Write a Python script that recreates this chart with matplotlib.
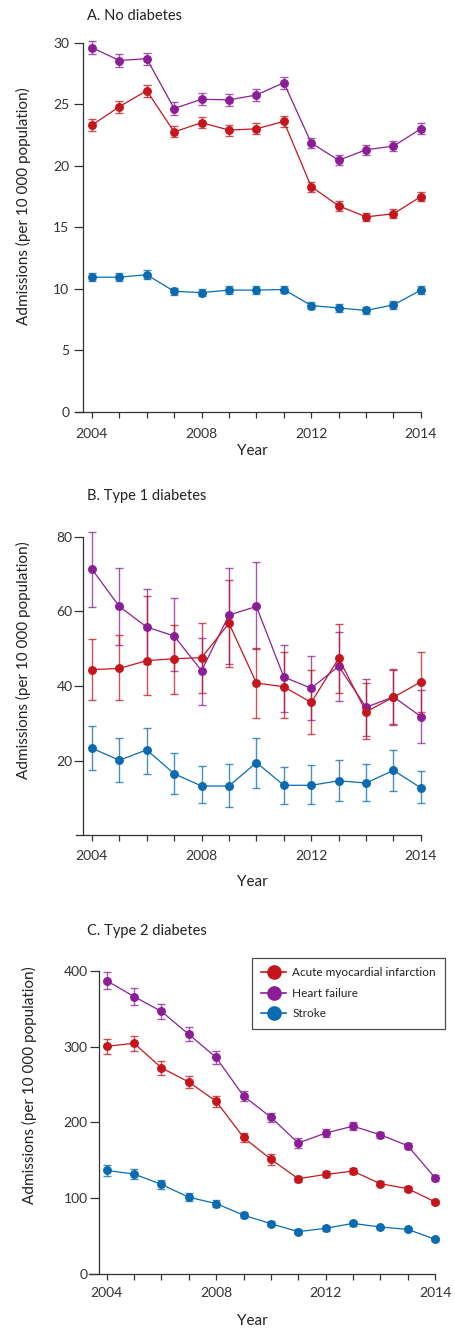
import numpy as np
import matplotlib
matplotlib.use("Agg")
import matplotlib.pyplot as plt
from matplotlib.lines import Line2D

plt.rcParams['font.family'] = ['Lato', 'DejaVu Sans']

# x axis: 13 time points, labelled at a few of them
tick_pos = [0, 4, 8, 12]
tick_labels = ["2004", "2008", "2012", "2014"]

series_names = ["Acute myocardial infarction", "Heart failure", "Stroke"]
RED = "#C4161C"
PURPLE = "#8B1E96"
BLUE = "#0A6BB0"

# A. No diabetes
a_ami = [23.3, 24.8, 26.1, 22.75, 23.5, 22.9, 23.0, 23.6, 18.3, 16.75, 15.85, 16.1, 17.5]
a_hf = [29.6, 28.55, 28.7, 24.65, 25.4, 25.35, 25.75, 26.75, 21.85, 20.45, 21.3, 21.6, 23.0]
a_stroke = [10.95, 10.95, 11.15, 9.8, 9.7, 9.9, 9.9, 9.95, 8.65, 8.45, 8.25, 8.7, 9.9]
a_ami_err = [0.5, 0.5, 0.5, 0.45, 0.45, 0.45, 0.45, 0.45, 0.4, 0.4, 0.35, 0.35, 0.4]
a_hf_err = [0.55, 0.5, 0.5, 0.5, 0.5, 0.5, 0.5, 0.5, 0.4, 0.4, 0.4, 0.4, 0.45]
a_stroke_err = [0.35, 0.35, 0.35, 0.3, 0.3, 0.3, 0.3, 0.3, 0.3, 0.3, 0.3, 0.3, 0.35]

# B. Type 1 diabetes (asymmetric intervals: lower / upper bounds)
b_ami = [44.4, 44.7, 46.8, 47.3, 47.6, 56.8, 40.8, 39.8, 35.6, 47.4, 33.1, 37.0, 41.1]
b_ami_lo = [36.2, 36.2, 37.6, 37.9, 38.2, 45.0, 31.5, 31.4, 27.2, 38.0, 25.9, 29.6, 32.9]
b_ami_hi = [52.5, 53.6, 64.0, 56.3, 57.0, 68.4, 50.2, 49.0, 44.2, 56.7, 40.7, 44.6, 49.0]
b_hf = [71.3, 61.3, 55.8, 53.4, 44.1, 59.0, 61.3, 42.4, 39.4, 45.3, 34.3, 37.1, 31.8]
b_hf_lo = [61.2, 51.1, 45.8, 44.0, 35.0, 46.0, 50.0, 33.1, 31.0, 36.1, 26.6, 29.8, 24.8]
b_hf_hi = [81.3, 71.5, 65.9, 63.5, 52.9, 71.6, 73.3, 51.1, 48.0, 54.4, 41.8, 44.4, 38.8]
b_stroke = [23.35, 20.1, 22.9, 16.5, 13.2, 13.2, 19.5, 13.4, 13.4, 14.6, 14.0, 17.4, 12.7]
b_stroke_lo = [17.4, 14.2, 16.4, 11.0, 8.7, 7.7, 12.6, 8.4, 8.4, 9.1, 9.1, 11.9, 8.6]
b_stroke_hi = [29.3, 26.2, 28.8, 22.0, 18.6, 19.2, 26.0, 18.3, 18.8, 20.2, 19.1, 22.8, 17.1]

# C. Type 2 diabetes
c_ami = [300.5, 304.6, 272.2, 253.4, 228.0, 180.3, 151.5, 125.8, 131.4, 135.8, 119.2, 112.7, 95.2]
c_hf = [387.2, 366.2, 346.6, 316.4, 285.8, 235.0, 207.0, 172.9, 186.0, 195.2, 183.8, 169.4, 127.1]
c_stroke = [136.7, 131.9, 118.3, 101.3, 93.0, 77.7, 66.4, 55.9, 60.3, 66.8, 62.0, 58.9, 45.9]
c_ami_err = [10, 10, 9, 8, 7, 6, 7, 4, 4, 4, 3, 3, 3]
c_hf_err = [11, 11, 10, 9, 9, 6, 6, 6, 5, 5, 4, 4, 4]
c_stroke_err = [7, 7, 6, 5, 5, 4, 3, 3, 3, 3, 2, 2, 2]

W, H = 455, 1330
fig = plt.figure(figsize=(W / 100, H / 100), dpi=100)


def px_axes(left, right, top, bottom):
    # pixel box -> figure fraction
    return fig.add_axes([left / W, 1 - bottom / H, (right - left) / W, (bottom - top) / H])


def draw(ax, vals, lo, hi, color):
    x = np.arange(len(vals))
    vals = np.asarray(vals)
    yerr = np.vstack([vals - np.asarray(lo), np.asarray(hi) - vals])
    ax.errorbar(x, vals, yerr=yerr, color=color, ecolor=color, elinewidth=1.0,
                capsize=2.6, capthick=1.0, marker='o', markersize=5.4, linewidth=0.9,
                clip_on=False, zorder=3)
    # lighten the whiskers a bit
    for c in ax.containers[-1].lines[1] + ax.containers[-1].lines[2]:
        c.set_alpha(0.75)


def style(ax, xlim, spine_x, ylim, ybound, yticks, ypad, xpad):
    ax.set_xlim(*xlim)
    ax.set_ylim(*ylim)
    for s in ["top", "right"]:
        ax.spines[s].set_visible(False)
    ax.spines["left"].set_position(("data", spine_x))
    ax.spines["left"].set_bounds(0, ybound)
    ax.spines["bottom"].set_bounds(xlim[0], 12)
    for s in ["left", "bottom"]:
        ax.spines[s].set_color("#333333")
        ax.spines[s].set_linewidth(0.9)
    ax.set_yticks(yticks)
    ax.set_xticks(tick_pos)
    ax.set_xticklabels(tick_labels)
    ax.set_xticks(range(13), minor=True)
    ax.tick_params(axis="y", length=6.5, width=0.9, color="#333333", pad=ypad,
                   labelsize=10, labelcolor="#333333")
    ax.tick_params(axis="x", which="both", length=4.5, width=0.9, color="#333333",
                   pad=xpad, labelsize=10, labelcolor="#333333")
    ax.patch.set_visible(False)


def label(x, y, s, **kw):
    fig.text(x / W, 1 - y / H, s, color="#222222", **kw)


ylab = "Admissions (per 10 000 population)"

# Panel A
axA = px_axes(76, 430.5, 36.5, 412)
draw(axA, a_hf, np.subtract(a_hf, a_hf_err), np.add(a_hf, a_hf_err), PURPLE)
draw(axA, a_ami, np.subtract(a_ami, a_ami_err), np.add(a_ami, a_ami_err), RED)
draw(axA, a_stroke, np.subtract(a_stroke, a_stroke_err), np.add(a_stroke, a_stroke_err), BLUE)
style(axA, (-0.58, 12.35), -0.34, (0, 30.5), 30, [0, 5, 10, 15, 20, 25, 30], 3.0, 7)
label(87, 15.5, "A. No diabetes", fontsize=10.5, va="center", ha="left")
label(23, 206, ylab, fontsize=11, va="center", ha="center", rotation=90)
label(252, 451, "Year", fontsize=11, va="center", ha="center")

# Panel B
axB = px_axes(76, 430.5, 525.5, 835.3)
draw(axB, b_hf, b_hf_lo, b_hf_hi, PURPLE)
draw(axB, b_ami, b_ami_lo, b_ami_hi, RED)
draw(axB, b_stroke, b_stroke_lo, b_stroke_hi, BLUE)
style(axB, (-0.58, 12.35), -0.34, (0, 83), 80, [20, 40, 60, 80], 0.6, 6)
label(87, 496, "B. Type 1 diabetes", fontsize=10.5, va="center", ha="left")
label(23, 660, ylab, fontsize=11, va="center", ha="center", rotation=90)
label(252, 882.5, "Year", fontsize=11, va="center", ha="center")

# Panel C
axC = px_axes(89.3, 444.6, 967.2, 1274)
draw(axC, c_hf, np.subtract(c_hf, c_hf_err), np.add(c_hf, c_hf_err), PURPLE)
draw(axC, c_ami, np.subtract(c_ami, c_ami_err), np.add(c_ami, c_ami_err), RED)
draw(axC, c_stroke, np.subtract(c_stroke, c_stroke_err), np.add(c_stroke, c_stroke_err), BLUE)
style(axC, (-0.636, 12.35), -0.28, (0, 405), 400, [0, 100, 200, 300, 400], 1.8, 5)
label(87, 931, "C. Type 2 diabetes", fontsize=10.5, va="center", ha="left")
label(29, 1085, ylab, fontsize=11, va="center", ha="center", rotation=90)
label(252, 1321, "Year", fontsize=11, va="center", ha="center")

handles = [Line2D([], [], color=c, marker='o', markersize=9.5, linewidth=1.2)
           for c in (RED, PURPLE, BLUE)]
leg = axC.legend(handles, series_names, loc="upper left",
                 bbox_to_anchor=((251.7 - 89.3) / 355.3, 1 - (958 - 967.2) / 306.8),
                 frameon=True, fancybox=False, fontsize=8.5, handlelength=2.1,
                 handletextpad=0.55, labelspacing=0.8, borderpad=0.8, borderaxespad=0)
leg.get_frame().set_edgecolor("#222222")
leg.get_frame().set_linewidth(0.9)
for t in leg.get_texts():
    t.set_color("#222222")

fig.savefig("out.png", dpi=100)
